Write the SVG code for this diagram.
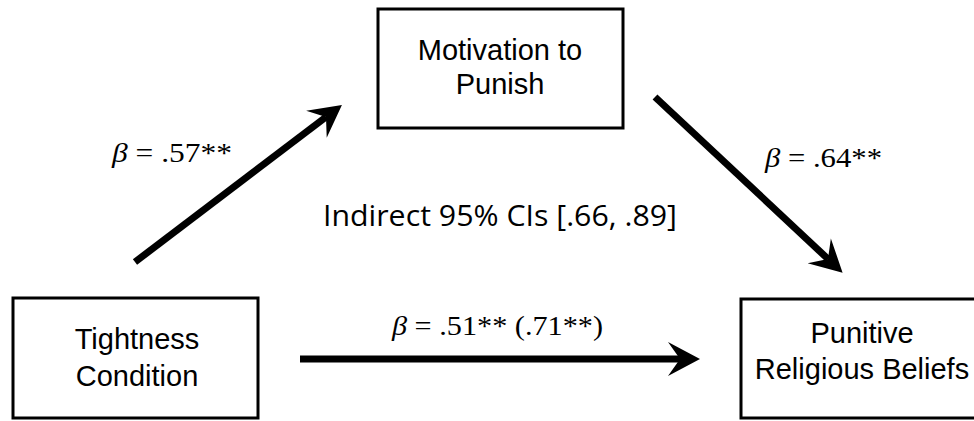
<svg xmlns="http://www.w3.org/2000/svg" width="974" height="421" viewBox="0 0 974 421">
<style>
.box{fill:#fff;stroke:#000;stroke-width:3}
.lbl{font-family:"Liberation Sans",Arial,sans-serif;font-size:29px;text-anchor:middle;fill:#000}
.beta{font-family:"Liberation Serif","Times New Roman",serif;font-size:28px;fill:#000}
.ci{font-family:"Open Sans","Noto Sans",sans-serif;font-size:30px;fill:#000}
.conn{stroke:#000;stroke-width:7;fill:none}
</style>
<defs>
<marker id="ah" markerUnits="userSpaceOnUse" viewBox="-34 -20 36 40" refX="-20" refY="0" markerWidth="36" markerHeight="40" orient="auto">
<path d="M0,0 L-32,-17 L-20,0 L-32,17 Z" fill="#000"/>
</marker>
</defs>
<rect width="974" height="421" fill="#fff"/>
<g id="connectors">
<line class="conn" x1="135" y1="262" x2="326" y2="117" marker-end="url(#ah)"/>
<line class="conn" x1="655" y1="97" x2="828" y2="259" marker-end="url(#ah)"/>
<line class="conn" x1="300" y1="359" x2="680" y2="359" marker-end="url(#ah)"/>
</g>
<g id="motivation">
<rect class="box" x="378" y="9" width="245" height="119"/>
<text class="lbl" x="500" y="60">Motivation to</text>
<text class="lbl" x="500" y="94">Punish</text>
</g>
<g id="tightness">
<rect class="box" x="13" y="298" width="245" height="120"/>
<text class="lbl" x="137" y="349">Tightness</text>
<text class="lbl" x="137" y="386">Condition</text>
</g>
<g id="punitive">
<rect class="box" x="741" y="299" width="245" height="119"/>
<text class="lbl" x="862" y="343">Punitive</text>
<text class="lbl" x="862" y="379">Religious Beliefs</text>
</g>
<g id="labels">
<text class="beta" x="112" y="162" textLength="120" lengthAdjust="spacingAndGlyphs"><tspan font-style="italic">β</tspan> = .57**</text>
<text class="beta" x="765" y="167" textLength="117" lengthAdjust="spacingAndGlyphs"><tspan font-style="italic">β</tspan> = .64**</text>
<text class="beta" x="392" y="335" textLength="211" lengthAdjust="spacingAndGlyphs"><tspan font-style="italic">β</tspan> = .51** (.71**)</text>
<text class="ci" x="323" y="226" textLength="354" lengthAdjust="spacingAndGlyphs">Indirect 95% CIs [.66, .89]</text>
</g>
</svg>
